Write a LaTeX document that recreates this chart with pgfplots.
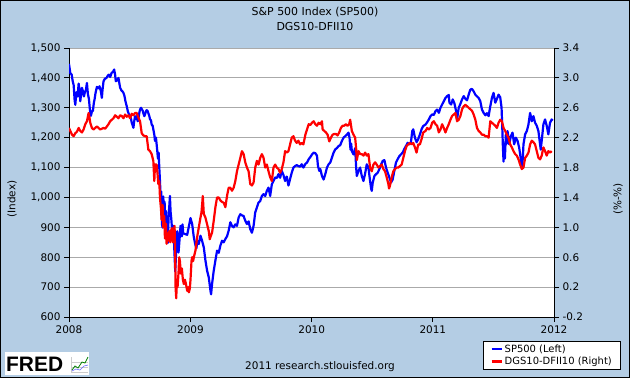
\documentclass[border=0pt]{standalone}
\usepackage{fontspec}
\setmainfont{DejaVu Sans}
\newfontfamily\logofont{Liberation Sans}
\usepackage{pgfplots}
\pgfplotsset{compat=1.18}
\definecolor{fredbg}{RGB}{180,205,228}
\definecolor{gridgray}{RGB}{170,170,170}
\definecolor{fredblue}{RGB}{0,0,255}
\definecolor{fredred}{RGB}{255,0,0}

\begin{document}
\begin{tikzpicture}[x=1bp,y=1bp]
\fill[fredbg] (0,0) rectangle (630,-378);
\draw[black, line width=1bp] (0.5,-0.5) rectangle (629.5,-377.5);

\pgfplotsset{
  fredbase/.style={
    at={(69bp,-317bp)}, anchor=south west, scale only axis,
    width=485bp, height=269bp,
    xmin=0, xmax=1461,
    tick align=outside, major tick length=5bp,
    axis line style={black, line width=1bp},
    tick style={black, line width=1bp},
    /pgf/number format/assume math mode=true,
    ticklabel style={font=\fontsize{10.5}{12}\selectfont},
    clip=true,
  }
}

% Left axis: S&P 500
\begin{axis}[fredbase,
  axis background/.style={fill=white},
  ymin=600, ymax=1500,
  axis x line*=bottom, axis y line*=left,
  xtick={0,366,731,1096,1461},
  xticklabels={2008,2009,2010,2011,2012},
  ytick={600,700,800,900,1000,1100,1200,1300,1400,1500},
  yticklabel style={/pgf/number format/1000 sep={,}},
  ymajorgrids, grid style={gridgray, line width=1bp},
]
\addplot[fredblue, line width=2.2bp, line join=round] coordinates {
(0,1447)(4,1416)(8,1411)(11,1390)(14,1376)(17,1325)(19,1310)(22,1352)(26,1338)(29,1381)
(32,1356)(34,1322)(37,1350)(39,1367)(42,1355)(45,1338)(48,1353)(51,1360)(54,1383)(57,1345)
(60,1330)(63,1293)(66,1273)(69,1288)(72,1290)(75,1318)(77,1328)(80,1350)(84,1370)(88,1365)
(92,1372)(96,1355)(99,1333)(101,1360)(104,1389)(108,1397)(113,1400)(116,1406)(120,1411)(124,1403)
(128,1416)(133,1421)(136,1428)(139,1410)(141,1389)(145,1392)(149,1400)(152,1380)(154,1367)(158,1358)
(161,1355)(164,1350)(167,1340)(170,1322)(174,1305)(177,1289)(180,1280)(184,1272)(187,1262)(189,1250)
(192,1240)(194,1233)(196,1252)(199,1272)(201,1262)(204,1272)(207,1255)(209,1262)(212,1284)(214,1294)
(217,1300)(219,1296)(222,1290)(224,1282)(227,1272)(229,1278)(232,1289)(234,1292)(237,1289)(239,1282)
(242,1272)(244,1262)(247,1258)(249,1244)(252,1240)(254,1228)(257,1210)(259,1189)(262,1200)(265,1166)
(268,1130)(270,1150)(272,1099)(274,1056)(276,1000)(278,1020)(280,910)(282,899)(284,1003)(286,946)
(288,985)(290,910)(292,955)(294,900)(296,876)(298,848)(300,940)(302,968)(304,1005)(306,952)
(308,930)(310,900)(312,870)(314,905)(316,860)(318,806)(320,752)(322,800)(324,855)(326,887)
(328,870)(330,816)(332,845)(334,876)(336,905)(338,888)(340,870)(342,910)(344,880)
(356,875)(361,903)(366,931)(371,911)(376,867)(381,840)(384,830)(386,855)(391,844)(396,872)
(401,855)(406,833)(411,789)(416,755)(421,733)(426,689)(428,676)(431,711)(436,755)(441,789)
(446,822)(451,815)(456,839)(461,855)(466,850)(471,861)(476,870)(481,889)(486,917)(491,905)
(496,900)(501,910)(506,905)(511,933)(516,944)(521,940)(526,938)(531,922)(536,911)(541,920)
(546,894)(551,882)(556,905)(561,950)(566,967)(571,983)(576,988)(581,1005)(586,1011)(591,1005)
(596,1022)(601,1033)(606,1005)(611,1044)(616,1055)(621,1067)(626,1065)(631,1078)(636,1066)(641,1089)
(646,1075)(651,1055)(656,1070)(661,1040)(666,1062)(671,1083)(676,1100)(681,1105)(686,1108)(691,1105)
(696,1103)(701,1111)(706,1100)
(712,1112)(717,1117)(722,1128)(727,1135)(732,1144)(737,1150)(742,1148)(747,1140)(750,1105)(754,1089)
(757,1095)(762,1072)(767,1060)(772,1078)(777,1100)(782,1111)(787,1117)(792,1133)(797,1150)(802,1161)
(807,1165)(812,1172)(817,1175)(822,1189)(827,1200)(832,1205)(837,1210)(842,1217)(845,1200)(848,1160)
(850,1180)(852,1155)(857,1144)(862,1165)(865,1100)(867,1072)(872,1089)(877,1100)(882,1072)(887,1055)
(892,1080)(897,1111)(902,1100)(907,1055)(910,1030)(912,1022)(915,1050)(920,1072)(925,1078)(930,1083)
(935,1095)(940,1110)(945,1122)(950,1125)(955,1100)(960,1083)(965,1067)(970,1050)(975,1060)(980,1089)
(985,1117)(990,1128)(995,1138)(1000,1144)(1005,1150)(1010,1162)(1015,1172)(1020,1183)(1025,1178)(1030,1185)
(1034,1222)(1037,1228)(1042,1200)(1047,1185)(1052,1195)(1057,1211)(1062,1228)(1067,1239)
(1074,1244)(1079,1252)(1084,1261)(1089,1272)(1094,1278)(1099,1276)(1104,1289)(1109,1294)(1114,1283)(1119,1300)
(1124,1311)(1129,1322)(1134,1333)(1139,1339)(1144,1343)(1146,1317)(1151,1311)(1156,1328)(1161,1315)(1166,1289)
(1169,1262)(1174,1300)(1179,1313)(1184,1328)(1189,1339)(1194,1330)(1199,1325)(1204,1344)(1209,1361)(1214,1363)
(1219,1355)(1224,1344)(1229,1338)(1234,1333)(1239,1322)(1244,1294)(1249,1283)(1254,1275)(1259,1282)(1264,1272)
(1269,1305)(1274,1333)(1279,1350)(1284,1317)(1289,1330)(1294,1344)(1299,1335)(1303,1300)(1305,1240)(1307,1170)
(1309,1120)(1311,1180)(1313,1130)(1316,1211)(1319,1180)(1321,1222)(1326,1178)(1331,1205)(1336,1217)(1341,1178)
(1346,1200)(1351,1190)(1356,1167)(1359,1144)(1362,1120)(1364,1099)(1367,1130)(1369,1178)(1374,1211)(1379,1222)
(1384,1244)(1389,1283)(1394,1255)(1399,1272)(1404,1250)(1409,1240)(1414,1222)(1419,1178)(1421,1160)(1424,1190)
(1429,1244)(1434,1261)(1439,1240)(1444,1211)(1449,1250)(1454,1261)(1457,1257)
};
\end{axis}

% Right axis: DGS10-DFII10
\begin{axis}[fredbase,
  ymin=-0.2, ymax=3.4,
  axis x line=none, axis y line*=right,
  ytick={-0.2,0.2,0.6,1.0,1.4,1.8,2.2,2.6,3.0,3.4},
  yticklabel style={/pgf/number format/fixed, /pgf/number format/fixed zerofill, /pgf/number format/precision=1},
  legend style={at={(0.8536,-0.0892)}, anchor=north west, draw=black, line width=1bp, fill=white,
    font=\fontsize{10}{12}\selectfont, inner xsep=7bp, inner ysep=1bp, row sep=-0.5bp},
  legend cell align=left,
  legend image code/.code={\draw[#1] (0bp,0bp) -- (10bp,0bp);},
]
\addlegendimage{fredblue, line width=2.2bp}
\addlegendentry{SP500 (Left)}
\addplot[fredred, line width=2.2bp, line join=round] coordinates {
(0,2.33)(4,2.29)(9,2.24)(14,2.22)(19,2.26)(24,2.28)(29,2.33)(34,2.29)(39,2.27)(44,2.31)
(49,2.38)(54,2.42)(59,2.53)(62,2.46)(64,2.40)(69,2.33)(74,2.31)(79,2.33)(84,2.35)(89,2.33)
(94,2.31)(99,2.32)(104,2.33)(109,2.32)(114,2.35)(119,2.38)(124,2.42)(129,2.44)(134,2.46)(139,2.50)
(144,2.48)(149,2.46)(154,2.50)(159,2.49)(164,2.46)(169,2.51)(174,2.48)(179,2.50)(184,2.46)(189,2.52)
(194,2.50)(199,2.53)(204,2.53)(209,2.47)(214,2.42)(219,2.26)(224,2.23)(229,2.22)(234,2.22)(239,2.04)
(244,2.02)(249,1.98)(254,1.89)(257,1.62)(259,1.84)(264,1.84)(267,1.70)(269,1.58)(272,1.62)(274,1.40)
(277,1.25)(279,1.10)(282,1.30)(284,1.00)(287,1.15)(289,0.85)(292,1.05)(294,0.78)(297,0.92)(299,0.82)
(302,0.95)(305,0.80)(307,0.95)(310,0.99)(313,0.80)(316,0.95)(318,1.02)(320,0.60)(321,0.20)(323,0.05)
(325,0.30)(327,0.20)(330,0.40)(332,0.60)(334,0.55)(337,0.38)(340,0.45)(343,0.30)(346,0.24)(349,0.30)
(352,0.25)(356,0.15)(359,0.20)(361,0.13)(364,0.18)(366,0.30)(369,0.55)(371,0.60)(374,0.55)(376,0.60)
(381,0.69)(386,0.87)(391,1.00)(396,1.13)(399,1.20)(401,1.30)(403,1.42)(406,1.18)(411,1.13)(416,1.04)
(421,0.95)(424,0.84)(426,0.87)(431,0.93)(436,1.09)(441,1.27)(446,1.40)(451,1.40)(456,1.36)(461,1.34)
(466,1.33)(471,1.27)(476,1.42)(481,1.53)(486,1.53)(491,1.49)(496,1.53)(501,1.62)(506,1.75)(511,1.84)
(516,1.93)(521,2.02)(526,1.98)(531,1.87)(536,1.80)(541,1.75)(546,1.58)(551,1.56)(556,1.60)(561,1.80)
(566,1.89)(571,1.84)(576,1.93)(581,1.98)(586,1.93)(591,1.80)(596,1.84)(601,1.75)(606,1.67)(611,1.62)
(616,1.80)(621,1.84)(626,1.80)(631,1.78)(636,1.73)(641,1.78)(646,1.87)(651,2.02)(656,2.00)(661,2.02)
(666,2.11)(671,2.20)(676,2.22)(681,2.16)(686,2.13)(691,2.16)(696,2.11)(701,2.13)(706,2.11)
(712,2.24)(717,2.31)(722,2.38)(727,2.37)(732,2.40)(737,2.42)(742,2.38)(747,2.36)(752,2.40)(757,2.38)
(762,2.42)(764,2.31)(769,2.29)(774,2.27)(779,2.24)(784,2.15)(789,2.20)(794,2.24)(799,2.25)(804,2.25)
(809,2.23)(814,2.27)(819,2.33)(824,2.36)(829,2.36)(834,2.38)(839,2.36)(844,2.38)(847,2.44)(852,2.29)
(857,2.24)(862,2.20)(865,2.05)(867,1.90)(872,2.02)(877,1.98)(882,1.98)(887,1.96)(892,2.00)(897,1.96)
(902,1.98)(907,1.80)(912,1.75)(917,1.84)(922,1.87)(927,1.84)(932,1.80)(937,1.82)(942,1.84)(947,1.78)
(952,1.75)(957,1.67)(962,1.58)(964,1.52)(967,1.56)(972,1.67)(977,1.75)(982,1.78)(987,1.80)(992,1.80)
(997,1.82)(1002,1.84)(1007,1.93)(1012,2.02)(1017,2.09)(1022,2.11)(1027,2.13)(1032,2.11)(1037,2.13)(1042,2.07)
(1047,2.00)(1052,2.11)(1057,2.11)(1062,2.18)(1067,2.27)
(1074,2.29)(1079,2.33)(1084,2.31)(1089,2.33)(1094,2.40)(1099,2.42)(1104,2.38)(1109,2.36)(1114,2.27)(1119,2.31)
(1124,2.38)(1129,2.33)(1134,2.27)(1139,2.33)(1144,2.38)(1149,2.44)(1154,2.49)(1159,2.51)(1164,2.53)(1169,2.42)
(1174,2.44)(1179,2.49)(1184,2.58)(1189,2.62)(1194,2.64)(1199,2.62)(1204,2.60)(1209,2.58)(1214,2.56)(1219,2.51)
(1224,2.44)(1229,2.33)(1234,2.29)(1239,2.27)(1244,2.24)(1249,2.24)(1254,2.22)(1259,2.22)(1264,2.20)(1269,2.42)
(1274,2.40)(1279,2.38)(1284,2.36)(1289,2.33)(1294,2.40)(1299,2.44)(1304,2.42)(1309,2.33)(1314,2.29)(1319,2.24)
(1324,2.20)(1329,2.11)(1334,2.07)(1339,2.02)(1344,1.98)(1349,1.96)(1354,1.91)(1359,1.84)(1364,1.78)(1369,1.80)
(1374,1.93)(1379,1.96)(1384,2.00)(1389,2.11)(1394,2.16)(1399,2.14)(1404,2.11)(1409,2.02)(1414,1.93)(1419,1.91)
(1424,1.96)(1429,2.07)(1434,2.02)(1439,1.96)(1444,2.02)(1449,2.00)(1454,2.02)
};
\addlegendentry{DGS10-DFII10 (Right)}
\end{axis}

% titles and labels
\node[font=\fontsize{11}{13}\selectfont] at (315,-12.5) {S\&P 500 Index (SP500)};
\node[font=\fontsize{11}{13}\selectfont] at (315,-26.5) {DGS10-DFII10};
\node[rotate=90, font=\fontsize{10.5}{12}\selectfont] at (12,-199) {(Index)};
\node[rotate=90, font=\fontsize{10.5}{12}\selectfont] at (618,-199) {(\%-\%)};
\node[font=\fontsize{10.5}{12}\selectfont] at (320,-366.5) {2011 research.stlouisfed.org};

% FRED logo
\fill[white] (5,-352) rectangle (89,-375);
\node[anchor=west, inner sep=0pt, font=\logofont\bfseries\fontsize{21}{21}\selectfont] at (6,-364) {FRED};
\draw[gridgray!60, line width=0.4bp] (71,-357) -- (71,-372) -- (88,-372);
\draw[gridgray!60, line width=0.4bp] (71,-362) -- (88,-362) (71,-367) -- (88,-367);
\draw[green!50!black, line width=0.8bp] (72,-370) -- (75,-366) -- (78,-368) -- (82,-362) -- (85,-363) -- (88,-357);
\draw[blue!60, line width=0.6bp] (72,-371) -- (76,-369) -- (80,-370) -- (84,-366) -- (88,-365);
\end{tikzpicture}
\end{document}
